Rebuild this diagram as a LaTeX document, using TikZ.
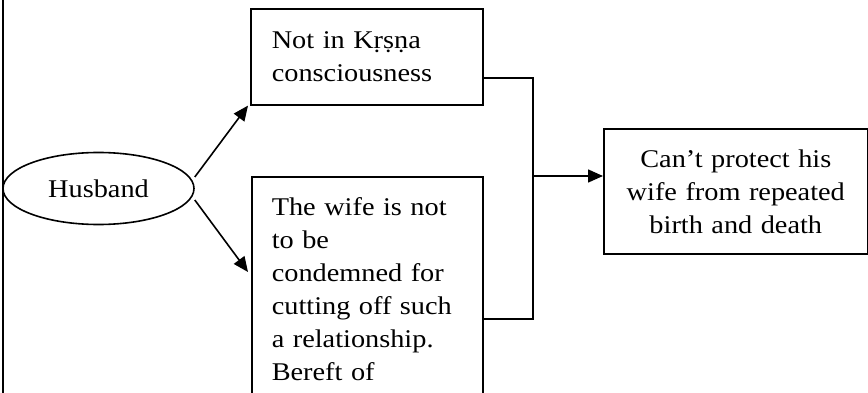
\documentclass[tikz,border=0pt]{standalone}
\usepackage{fontspec}
\setmainfont{Liberation Serif}[FakeStretch=1.11]
\usetikzlibrary{arrows.meta,shapes.geometric,calc}

\tikzset{
  line/.style={line width=1.6pt, draw=black},
  flow/.style={line, -{Triangle[length=15pt,width=13pt]}},
  box/.style={draw=black, line width=1.6pt, rectangle, inner ysep=0pt,
    font={\fontsize{25.5}{33}\selectfont}},
  oval/.style={draw=black, line width=1.6pt, ellipse, inner sep=0pt,
    minimum width=191pt, minimum height=72pt,
    font={\fontsize{25.5}{33}\selectfont}},
}

\begin{document}
\begin{tikzpicture}[x=1pt, y=-1pt]
  \useasboundingbox (0,0) rectangle (868,393);
  \begin{scope}
    \clip (0,0) rectangle (868,393);

    % margin rule on the left
    \draw[line] (3,-5) -- (3,400);

    % the husband and his two branches
    \node[oval] (husband) at (98.5,188.5) {Husband};

    \node[box, anchor=north west, minimum width=232pt, minimum height=96pt,
          inner xsep=21pt, text width=190pt, align=left]
      (notkrsna) at (250,8) {Not in Kṛṣṇa\\consciousness};

    \node[box, anchor=north west, minimum width=231pt, minimum height=224pt,
          inner xsep=20pt, text width=191pt, align=left]
      (wife) at (251,176) {The wife is not\\to be\\condemned for\\cutting off such\\a relationship.\\Bereft of};

    \node[box, anchor=north west, minimum width=264pt, minimum height=125pt,
          inner xsep=10pt, text width=244pt, align=center]
      (result) at (603,128) {Can’t protect his\\wife from repeated\\birth and death};

    % arrows out of the ellipse
    \draw[flow] ([yshift=11.5pt]husband.east) -- ($(notkrsna.south west)+(-2,0)$);
    \draw[flow] ([yshift=-11.5pt]husband.east) -- ($(wife.north west)+(-3,96)$);

    % bus joining both boxes and feeding the result
    \coordinate (busTop) at (533,78);
    \coordinate (busBot) at (533,319);
    \coordinate (busMid) at (533,176);
    \draw[line] (notkrsna.east |- busTop) -- (busTop) -- (busBot) -- (wife.east |- busBot);
    \draw[flow] (busMid) -- (result.west |- busMid);
  \end{scope}
\end{tikzpicture}
\end{document}
